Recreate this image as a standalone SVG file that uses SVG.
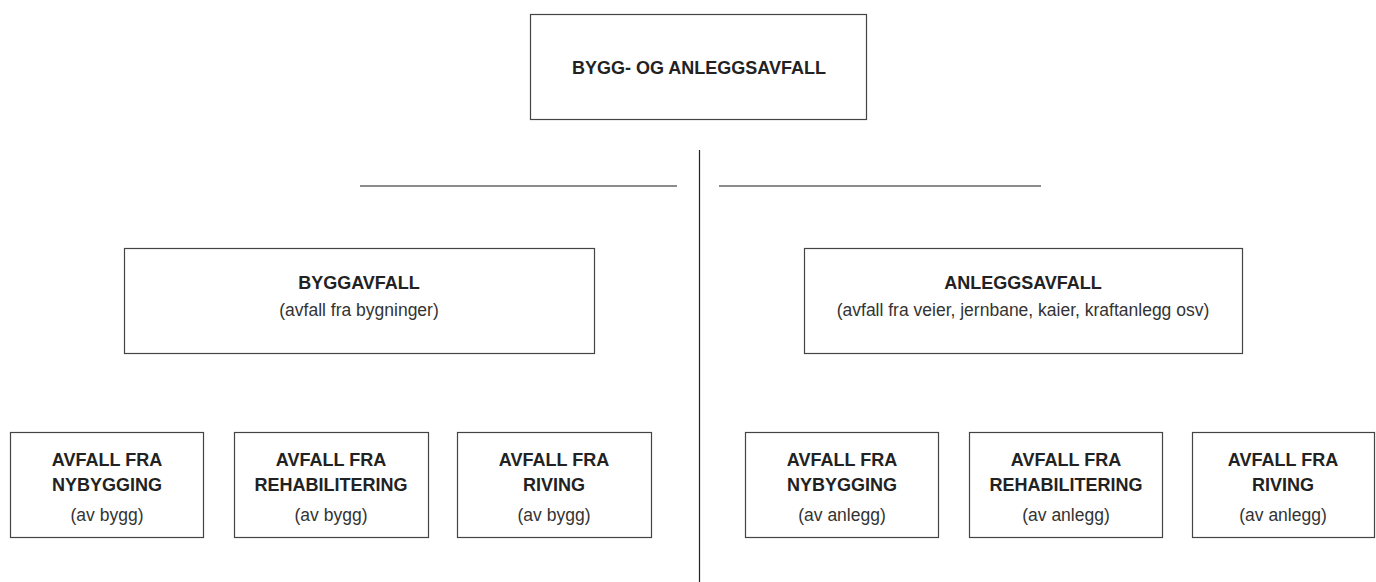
<svg xmlns="http://www.w3.org/2000/svg" width="1376" height="582" viewBox="0 0 1376 582">
<style>
.box{fill:#fff;stroke:#444;stroke-width:1.2}
.b{font-family:"Liberation Sans",Arial,sans-serif;font-weight:bold;font-size:18px;fill:#222;text-anchor:middle}
.r{font-family:"Liberation Sans",Arial,sans-serif;font-size:17.5px;fill:#333;text-anchor:middle}
.hl{stroke:#666;stroke-width:1.5}
.vl{stroke:#222;stroke-width:1.2}
</style>
<rect width="1376" height="582" fill="#fff"/>
<g id="connectors">
<line class="vl" x1="699.5" y1="150" x2="699.5" y2="582"/>
<line class="hl" x1="360" y1="186" x2="677" y2="186"/>
<line class="hl" x1="719" y1="186" x2="1041" y2="186"/>
</g>
<g id="top">
<rect class="box" x="530.5" y="14.5" width="336" height="105"/>
<text class="b" x="699" y="74">BYGG- OG ANLEGGSAVFALL</text>
</g>
<g id="byggavfall">
<rect class="box" x="124.5" y="248.5" width="470" height="105"/>
<text class="b" x="359" y="289">BYGGAVFALL</text>
<text class="r" x="359" y="316">(avfall fra bygninger)</text>
</g>
<g id="anleggsavfall">
<rect class="box" x="804.5" y="248.5" width="438" height="105"/>
<text class="b" x="1023" y="289">ANLEGGSAVFALL</text>
<text class="r" x="1023" y="316">(avfall fra veier, jernbane, kaier, kraftanlegg osv)</text>
</g>
<g id="bygg-nybygging">
<rect class="box" x="10.5" y="432.5" width="193" height="105"/>
<text class="b" x="107" y="466">AVFALL FRA</text>
<text class="b" x="107" y="491">NYBYGGING</text>
<text class="r" x="107" y="521">(av bygg)</text>
</g>
<g id="bygg-rehabilitering">
<rect class="box" x="234.5" y="432.5" width="194" height="105"/>
<text class="b" x="331" y="466">AVFALL FRA</text>
<text class="b" x="331" y="491">REHABILITERING</text>
<text class="r" x="331" y="521">(av bygg)</text>
</g>
<g id="bygg-riving">
<rect class="box" x="457.5" y="432.5" width="194" height="105"/>
<text class="b" x="554" y="466">AVFALL FRA</text>
<text class="b" x="554" y="491">RIVING</text>
<text class="r" x="554" y="521">(av bygg)</text>
</g>
<g id="anlegg-nybygging">
<rect class="box" x="745.5" y="432.5" width="193" height="105"/>
<text class="b" x="842" y="466">AVFALL FRA</text>
<text class="b" x="842" y="491">NYBYGGING</text>
<text class="r" x="842" y="521">(av anlegg)</text>
</g>
<g id="anlegg-rehabilitering">
<rect class="box" x="969.5" y="432.5" width="193" height="105"/>
<text class="b" x="1066" y="466">AVFALL FRA</text>
<text class="b" x="1066" y="491">REHABILITERING</text>
<text class="r" x="1066" y="521">(av anlegg)</text>
</g>
<g id="anlegg-riving">
<rect class="box" x="1192.5" y="432.5" width="182" height="105"/>
<text class="b" x="1283" y="466">AVFALL FRA</text>
<text class="b" x="1283" y="491">RIVING</text>
<text class="r" x="1283" y="521">(av anlegg)</text>
</g>
</svg>
